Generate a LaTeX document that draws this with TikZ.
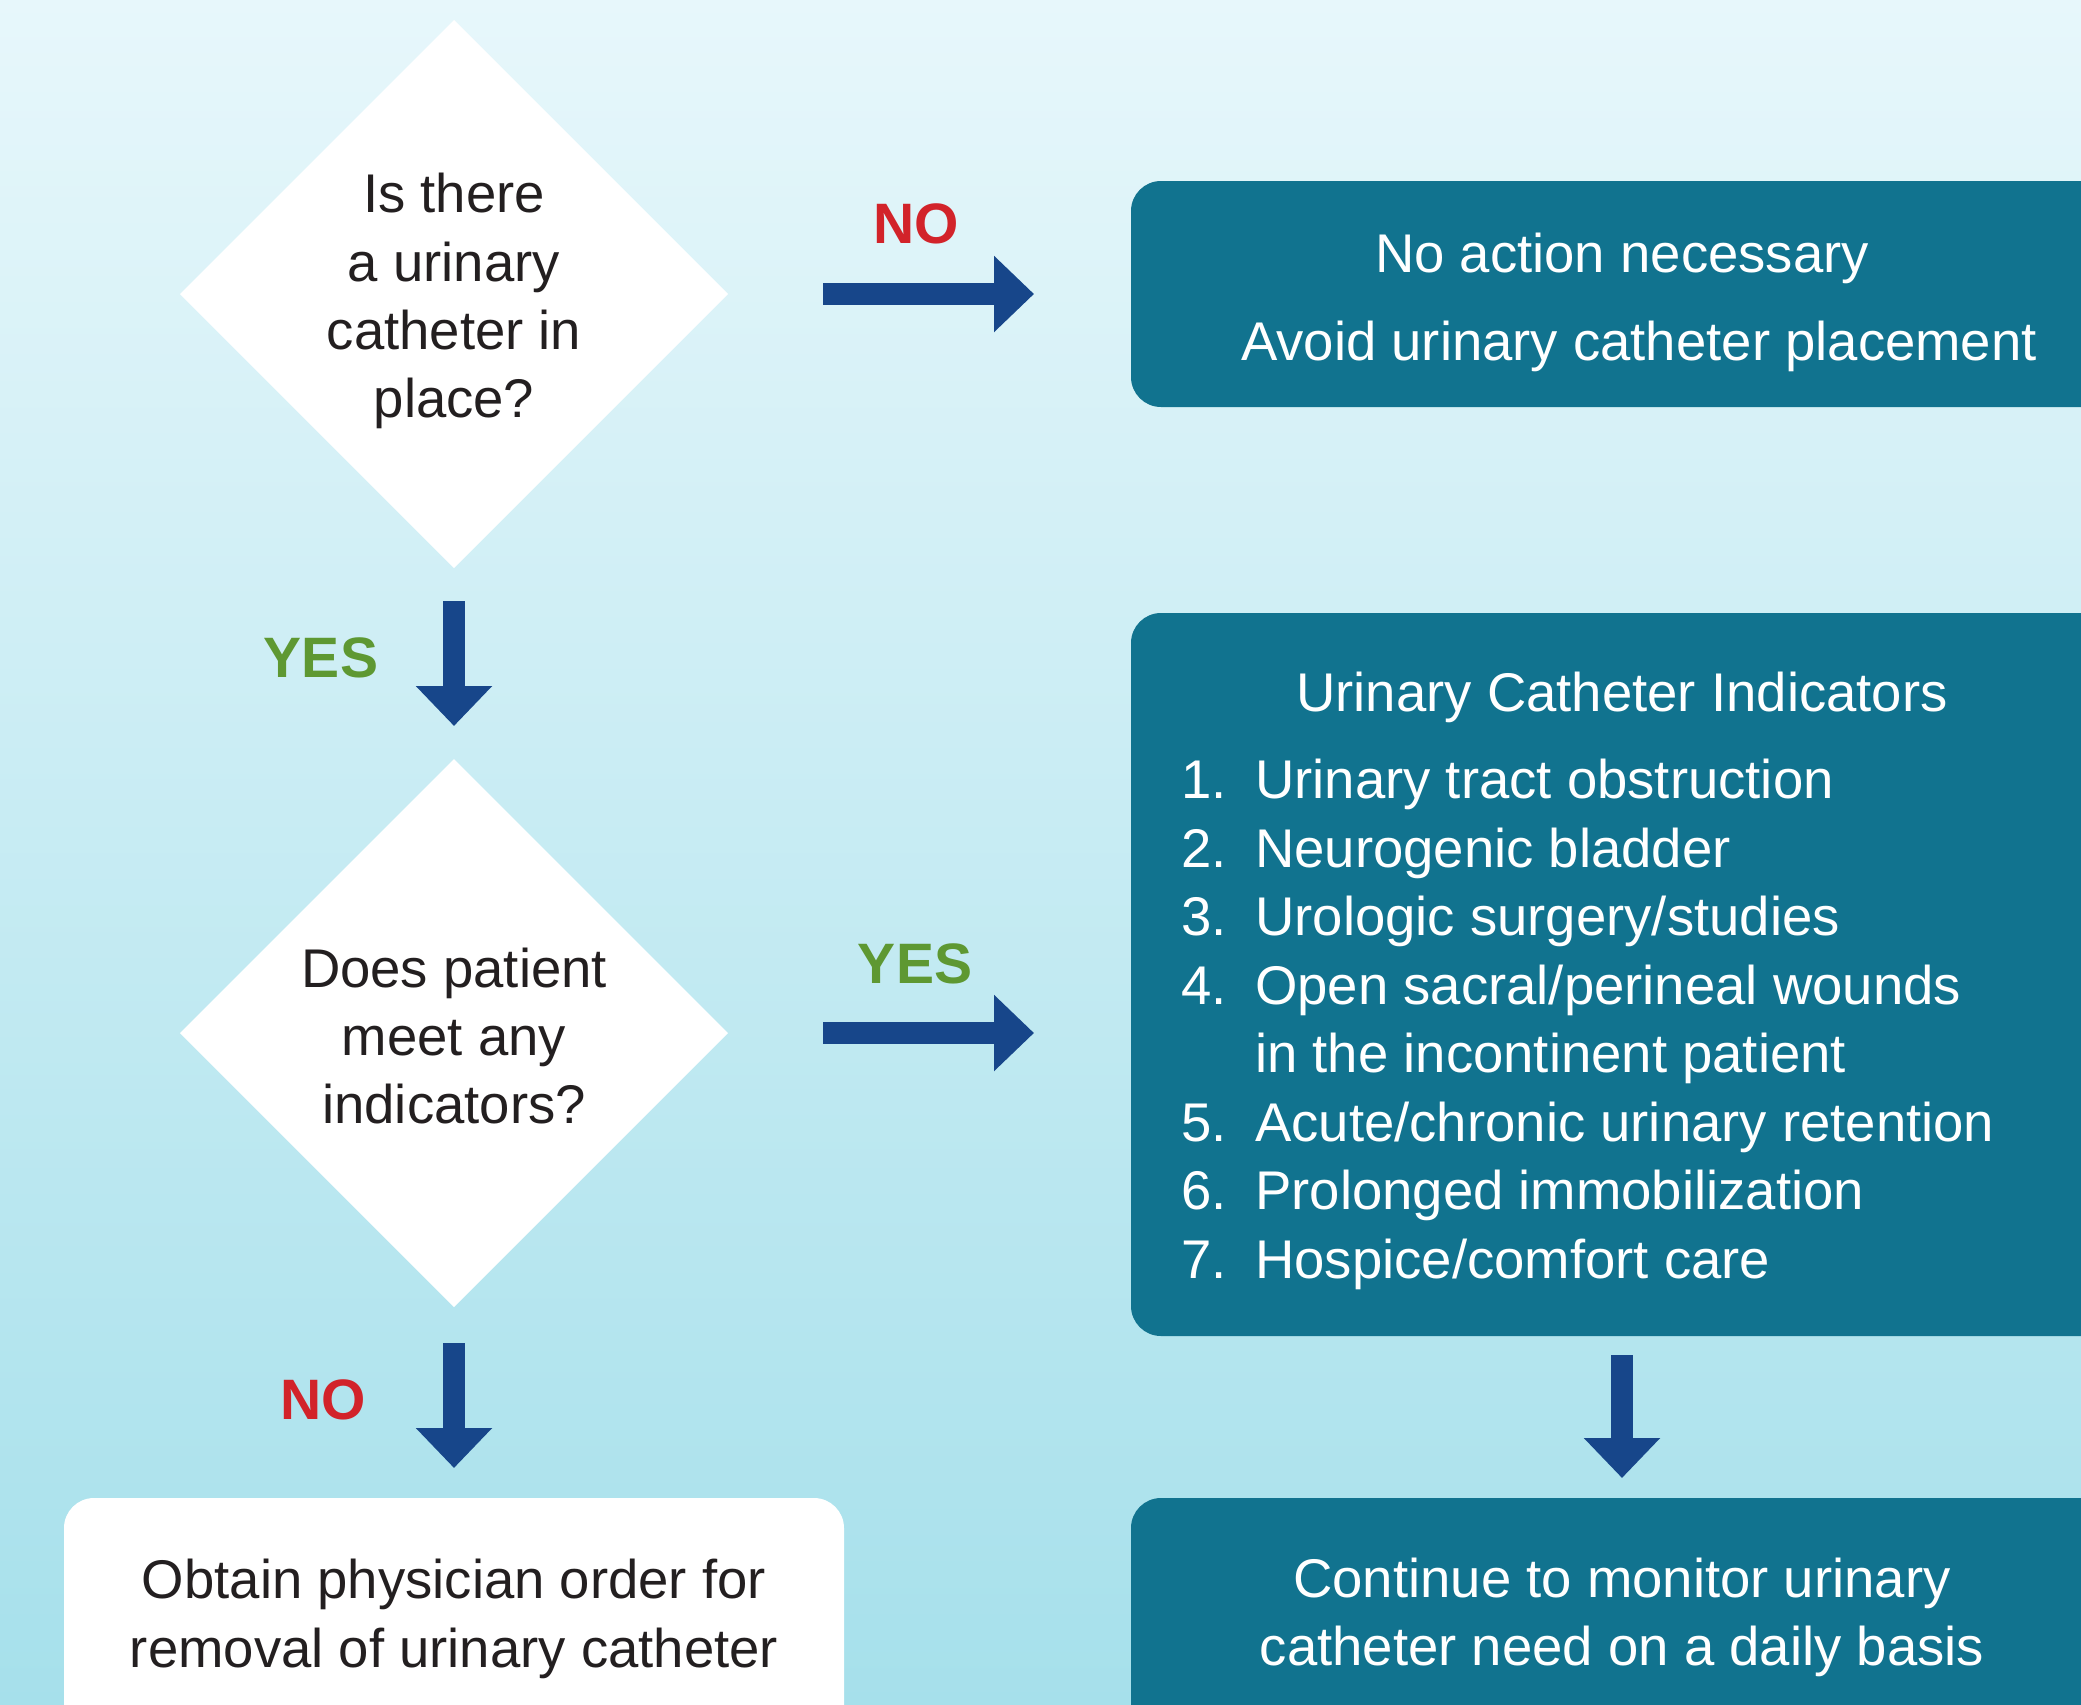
\documentclass[tikz,border=0pt]{standalone}
\usepackage{fontspec}
\setmainfont{Liberation Sans}
\usetikzlibrary{shapes.geometric,arrows.meta,calc}
\definecolor{bgtop}{RGB}{231,247,251}
\definecolor{bgbot}{RGB}{166,224,235}
\definecolor{boxteal}{RGB}{17,115,143}
\definecolor{arrowblue}{RGB}{23,70,138}
\definecolor{darktext}{RGB}{35,31,32}
\definecolor{nored}{RGB}{210,35,42}
\definecolor{yesgreen}{RGB}{94,152,50}
\newcommand\bodyfont{\fontsize{54.5}{68}\selectfont}
\newcommand\lblfont{\fontsize{57}{68}\selectfont\bfseries}
\begin{document}
\begin{tikzpicture}[x=1pt,y=-1pt,
  diam/.style={diamond, aspect=1, fill=white, draw=none, minimum width=548pt, minimum height=548pt, inner sep=0pt, outer sep=0pt},
  tealbox/.style={rectangle, rounded corners=30pt, fill=boxteal, draw=none, inner sep=0pt, outer sep=0pt},
  whitebox/.style={rectangle, rounded corners=30pt, fill=white, draw=none, inner sep=0pt, outer sep=0pt},
  dtext/.style={anchor=base, font=\bodyfont, text=darktext, inner sep=0pt},
  wtext/.style={anchor=base, font=\bodyfont, text=white, inner sep=0pt},
  ltext/.style={anchor=base west, font=\bodyfont, text=white, inner sep=0pt},
  nolbl/.style={anchor=base, font=\lblfont, text=nored, inner sep=0pt},
  yeslbl/.style={anchor=base, font=\lblfont, text=yesgreen, inner sep=0pt},
  barrow/.style={draw=arrowblue, line width=22pt, line cap=butt, -{Triangle[length=40pt,width=74pt]}}
]
\useasboundingbox (0,0) rectangle (2081,1705);
\clip (0,0) rectangle (2081,1705);
\shade[top color=bgtop, bottom color=bgbot] (0,0) rectangle (2081,1705);

% shapes
\node[diam] (d1) at (454,294) {};
\node[diam] (d2) at (454,1033) {};
\node[tealbox, minimum width=982pt, minimum height=226pt] (b1) at (1622,294) {};
\node[tealbox, minimum width=982pt, minimum height=723pt] (b2) at (1622,974.5) {};
\node[tealbox, minimum width=982pt, minimum height=262pt] (b3) at (1622,1629) {};
\node[whitebox, minimum width=780pt, minimum height=262pt] (b4) at (454,1629) {};

% diamond texts
\node[dtext] (q1a) at (454,212) {Is there};
\node[dtext] (q1b) at (454,281) {a urinary};
\node[dtext] (q1c) at (454,349) {catheter in};
\node[dtext] (q1d) at (454,417) {place?};
\node[dtext] (q2a) at (454,987) {Does patient};
\node[dtext] (q2b) at (454,1055) {meet any};
\node[dtext] (q2c) at (454,1123) {indicators?};

% box 1
\node[wtext] (b1a) at (1622,272) {No action necessary};
\node[wtext] (b1b) at (1639,360) {Avoid urinary catheter placement};

% box 2
\node[wtext] (b2t) at (1622,711) {Urinary Catheter Indicators};
\node[ltext] (n1) at (1181,798) {1.};
\node[ltext] (n2) at (1181,867) {2.};
\node[ltext] (n3) at (1181,935) {3.};
\node[ltext] (n4) at (1181,1004) {4.};
\node[ltext] (n5) at (1181,1141) {5.};
\node[ltext] (n6) at (1181,1209) {6.};
\node[ltext] (n7) at (1181,1278) {7.};
\node[ltext] (i1) at (1255,798) {Urinary tract obstruction};
\node[ltext] (i2) at (1255,867) {Neurogenic bladder};
\node[ltext] (i3) at (1255,935) {Urologic surgery/studies};
\node[ltext] (i4) at (1255,1004) {Open sacral/perineal wounds};
\node[ltext] (i4b) at (1255,1072) {in the incontinent patient};
\node[ltext] (i5) at (1255,1141) {Acute/chronic urinary retention};
\node[ltext] (i6) at (1255,1209) {Prolonged immobilization};
\node[ltext] (i7) at (1255,1278) {Hospice/comfort care};

% box 3
\node[wtext] (b3a) at (1622,1597) {Continue to monitor urinary};
\node[wtext] (b3b) at (1622,1665) {catheter need on a daily basis};

% box 4
\node[dtext] (b4a) at (454,1598) {Obtain physician order for};
\node[dtext] (b4b) at (454,1667) {removal of urinary catheter};

% arrows
\draw[barrow] ($(d1.east)+(95,0)$) -- ($(d1.east -| b1.west)+(-97,0)$);
\draw[barrow] ($(d1.south)+(0,33)$) -- ($(d2.north)+(0,-33)$);
\draw[barrow] ($(d2.east)+(95,0)$) -- ($(d2.east -| b2.west)+(-97,0)$);
\draw[barrow] ($(d2.south)+(0,36)$) -- ($(b4.north)+(0,-30)$);
\draw[barrow] ($(b2.south)+(0,19)$) -- ($(b3.north)+(0,-20)$);

% labels
\node[nolbl] (l1) at (916,243) {NO};
\node[yeslbl] (l2) at (321,677) {YES};
\node[yeslbl] (l3) at (915,983) {YES};
\node[nolbl] (l4) at (323,1419) {NO};
\end{tikzpicture}
\end{document}
